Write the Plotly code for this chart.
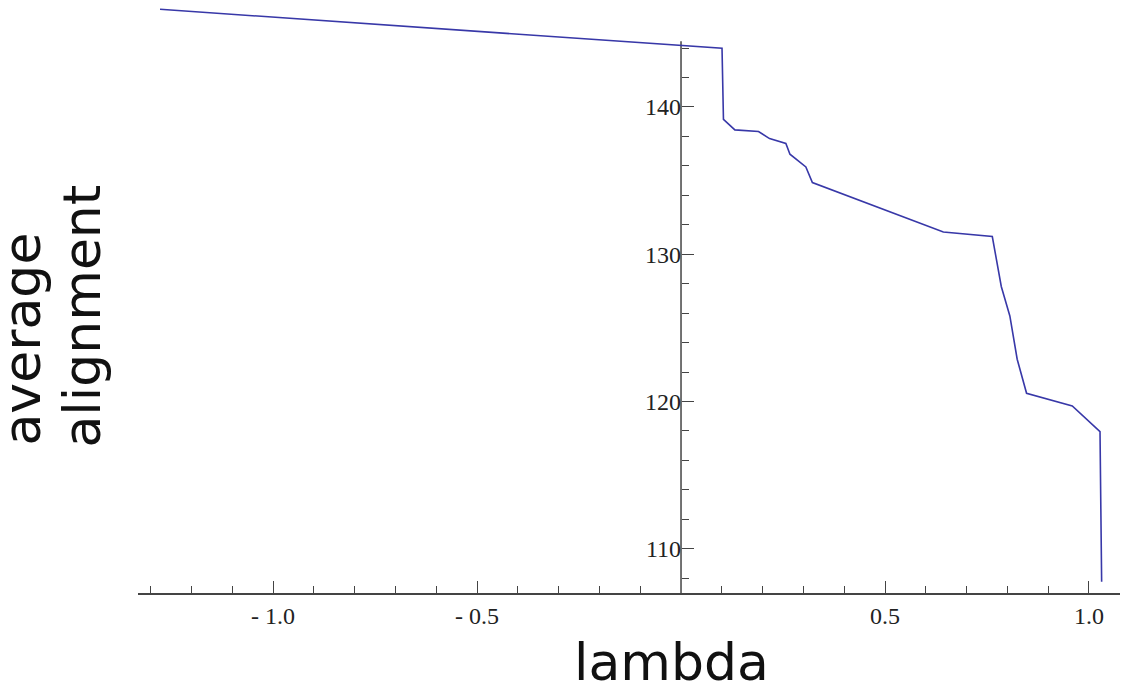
import plotly.graph_objects as go

# data
lam = [-1.277, 0.1005, 0.104, 0.132, 0.190, 0.217, 0.257, 0.267, 0.306, 0.322,
       0.643, 0.763, 0.785, 0.806, 0.824, 0.847, 0.959, 1.027, 1.031]
avg_align = [146.63, 143.98, 139.16, 138.44, 138.33, 137.85, 137.52, 136.79, 135.93, 134.87,
             131.51, 131.20, 127.81, 125.81, 122.87, 120.56, 119.70, 117.96, 107.76]

x_major = [-1.0, -0.5, 0.5, 1.0]
x_major_text = ["- 1.0", "- 0.5", "0.5", "1.0"]
x_minor = [-1.3, -1.2, -1.1, -0.9, -0.8, -0.7, -0.6, -0.4, -0.3, -0.2, -0.1,
           0.1, 0.2, 0.3, 0.4, 0.6, 0.7, 0.8, 0.9]
y_major = [110, 120, 130, 140]
y_minor = [108, 112, 114, 116, 118, 122, 124, 126, 128, 132, 134, 136, 138, 142, 144]

x_range = [-1.331, 1.076]
y_range = [107.0, 147.26]
y_axis_top = 144.46

axis_col = "#444444"
tick_font = dict(family="Liberation Serif", size=24, color="#222222")
title_font = dict(family="DejaVu Sans", size=52, color="#111111")

W, H = 1129, 687
L, R, T, B = 138, 9, 0, 94
PW, PH = W - L - R, H - T - B

fig = go.Figure()
fig.add_trace(go.Scatter(x=lam, y=avg_align, mode="lines",
                         line=dict(color="#3838a8", width=1.6), showlegend=False))

ypos = (0 - x_range[0]) / (x_range[1] - x_range[0])

fig.update_layout(
    width=W, height=H,
    margin=dict(l=L, r=R, t=T, b=B),
    paper_bgcolor="white", plot_bgcolor="white",
    xaxis=dict(range=x_range, showgrid=False, zeroline=False,
               showline=True, linecolor=axis_col, linewidth=1.5,
               tickmode="array", tickvals=x_major, ticktext=x_major_text,
               ticks="inside", ticklen=12, tickwidth=1.3, tickcolor=axis_col,
               tickfont=tick_font,
               minor=dict(tickmode="array", tickvals=x_minor, ticks="inside",
                          ticklen=7, tickwidth=1.2, tickcolor=axis_col)),
    yaxis=dict(range=y_range, showgrid=False, zeroline=False, showline=False,
               anchor="free", position=ypos,
               tickmode="array", tickvals=y_major,
               ticks="inside", ticklen=12, tickwidth=1.3, tickcolor=axis_col,
               tickfont=tick_font,
               minor=dict(tickmode="array", tickvals=y_minor, ticks="inside",
                          ticklen=7, tickwidth=1.2, tickcolor=axis_col)),
)

fig.add_shape(type="line", xref="x", yref="y", x0=0, x1=0,
              y0=y_range[0], y1=y_axis_top,
              line=dict(color=axis_col, width=1.5), layer="below")


def px_x(p):
    return (p - L) / PW


def px_y(p):
    return (H - B - p) / PH


fig.add_annotation(text="lambda", xref="paper", yref="paper",
                   x=px_x(671), y=px_y(662), yanchor="middle", xanchor="center",
                   showarrow=False, font=title_font)
fig.add_annotation(text="average", xref="paper", yref="paper",
                   x=px_x(21), y=px_y(448), xanchor="center", yanchor="bottom",
                   textangle=-90, showarrow=False, font=title_font)
fig.add_annotation(text="alignment", xref="paper", yref="paper",
                   x=px_x(81), y=px_y(450), xanchor="center", yanchor="bottom",
                   textangle=-90, showarrow=False, font=title_font)

fig.write_html("out.html", config={"displayModeBar": False},
               post_script="document.body.style.margin='0px';")
